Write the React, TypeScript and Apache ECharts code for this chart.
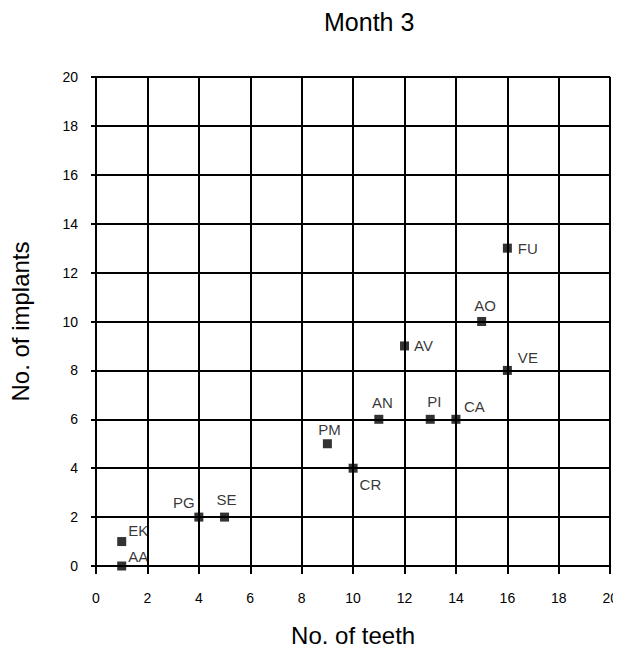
import React, { useEffect, useRef } from "react";
import * as echarts from "echarts";

const names = ["EK", "AA", "PG", "SE", "PM", "CR", "AN", "PI", "CA", "AV", "AO", "VE", "FU"];
const teeth = [1, 1, 4, 5, 9, 10, 11, 13, 14, 12, 15, 16, 16];
const implants = [1, 0, 2, 2, 5, 4, 6, 6, 6, 9, 10, 8, 13];
const xTicks = [0, 2, 4, 6, 8, 10, 12, 14, 16, 18, 20];
const yTicks = [0, 2, 4, 6, 8, 10, 12, 14, 16, 18, 20];

const FONT = "'Liberation Sans', Arial, Helvetica, sans-serif";

const labelCfg: Record<string, any> = {
  EK: { position: "right", distance: 2, offset: [0, -11] },
  AA: { position: "right", distance: 2, offset: [0, -10] },
  PG: { position: "top", offset: [-15, 2] },
  SE: { position: "top", offset: [2, -1] },
  PM: { position: "top", offset: [2, 3] },
  CR: { position: "right", distance: 2, offset: [0, 16] },
  AN: { position: "top", offset: [3.5, 0] },
  PI: { position: "top", offset: [4, -1] },
  CA: { position: "right", distance: 3.5, offset: [0, -13] },
  AV: { position: "right", distance: 5, offset: [0, 0] },
  AO: { position: "top", offset: [3.5, 1] },
  VE: { position: "right", distance: 6, offset: [0, -13] },
  FU: { position: "right", distance: 6, offset: [0, 0] },
};

export default function App() {
  const ref = useRef<HTMLDivElement>(null);
  useEffect(() => {
    if (!ref.current) return;
    const chart = echarts.init(ref.current, undefined, { renderer: "svg" });
    const lineStyle = { color: "#000", width: 2 };
    chart.setOption({
      animation: false,
      backgroundColor: "#fff",
      title: {
        text: "Month 3",
        left: 319,
        top: 4,
        textStyle: { fontFamily: FONT, fontSize: 25, fontWeight: "normal", color: "#000" },
      },
      grid: { left: 96, right: 7, top: 77, bottom: 83 },
      xAxis: {
        type: "value",
        min: xTicks[0],
        max: xTicks[xTicks.length - 1],
        interval: 2,
        name: "No. of teeth",
        nameLocation: "middle",
        nameGap: 57,
        nameTextStyle: { fontFamily: FONT, fontSize: 24, color: "#000", verticalAlign: "top" },
        axisLine: { show: true, lineStyle },
        axisTick: { show: true, length: 8, lineStyle },
        splitLine: { show: true, lineStyle },
        axisLabel: {
          fontFamily: FONT,
          fontSize: 14,
          color: "#000",
          margin: 25,
          verticalAlign: "top",
        },
      },
      yAxis: {
        type: "value",
        min: yTicks[0],
        max: yTicks[yTicks.length - 1],
        interval: 2,
        name: "No. of implants",
        nameLocation: "middle",
        nameGap: 64,
        nameTextStyle: { fontFamily: FONT, fontSize: 24, color: "#000" },
        axisLine: { show: true, lineStyle },
        axisTick: { show: true, length: 5, lineStyle },
        splitLine: { show: true, lineStyle },
        axisLabel: { fontFamily: FONT, fontSize: 14, color: "#000", margin: 18 },
      },
      series: [
        {
          type: "scatter",
          symbol: "rect",
          symbolSize: 9,
          itemStyle: { color: "#000" },
          label: {
            show: true,
            formatter: (p: any) => p.data.name,
            fontFamily: FONT,
            fontSize: 15,
            color: "#000",
          },
          data: names.map((n, i) => ({
            name: n,
            value: [teeth[i], implants[i]],
            label: labelCfg[n],
          })),
        },
      ],
    });
    return () => chart.dispose();
  }, []);
  return <div ref={ref} style={{ width: 621, height: 652, margin: -8 }} />;
}
